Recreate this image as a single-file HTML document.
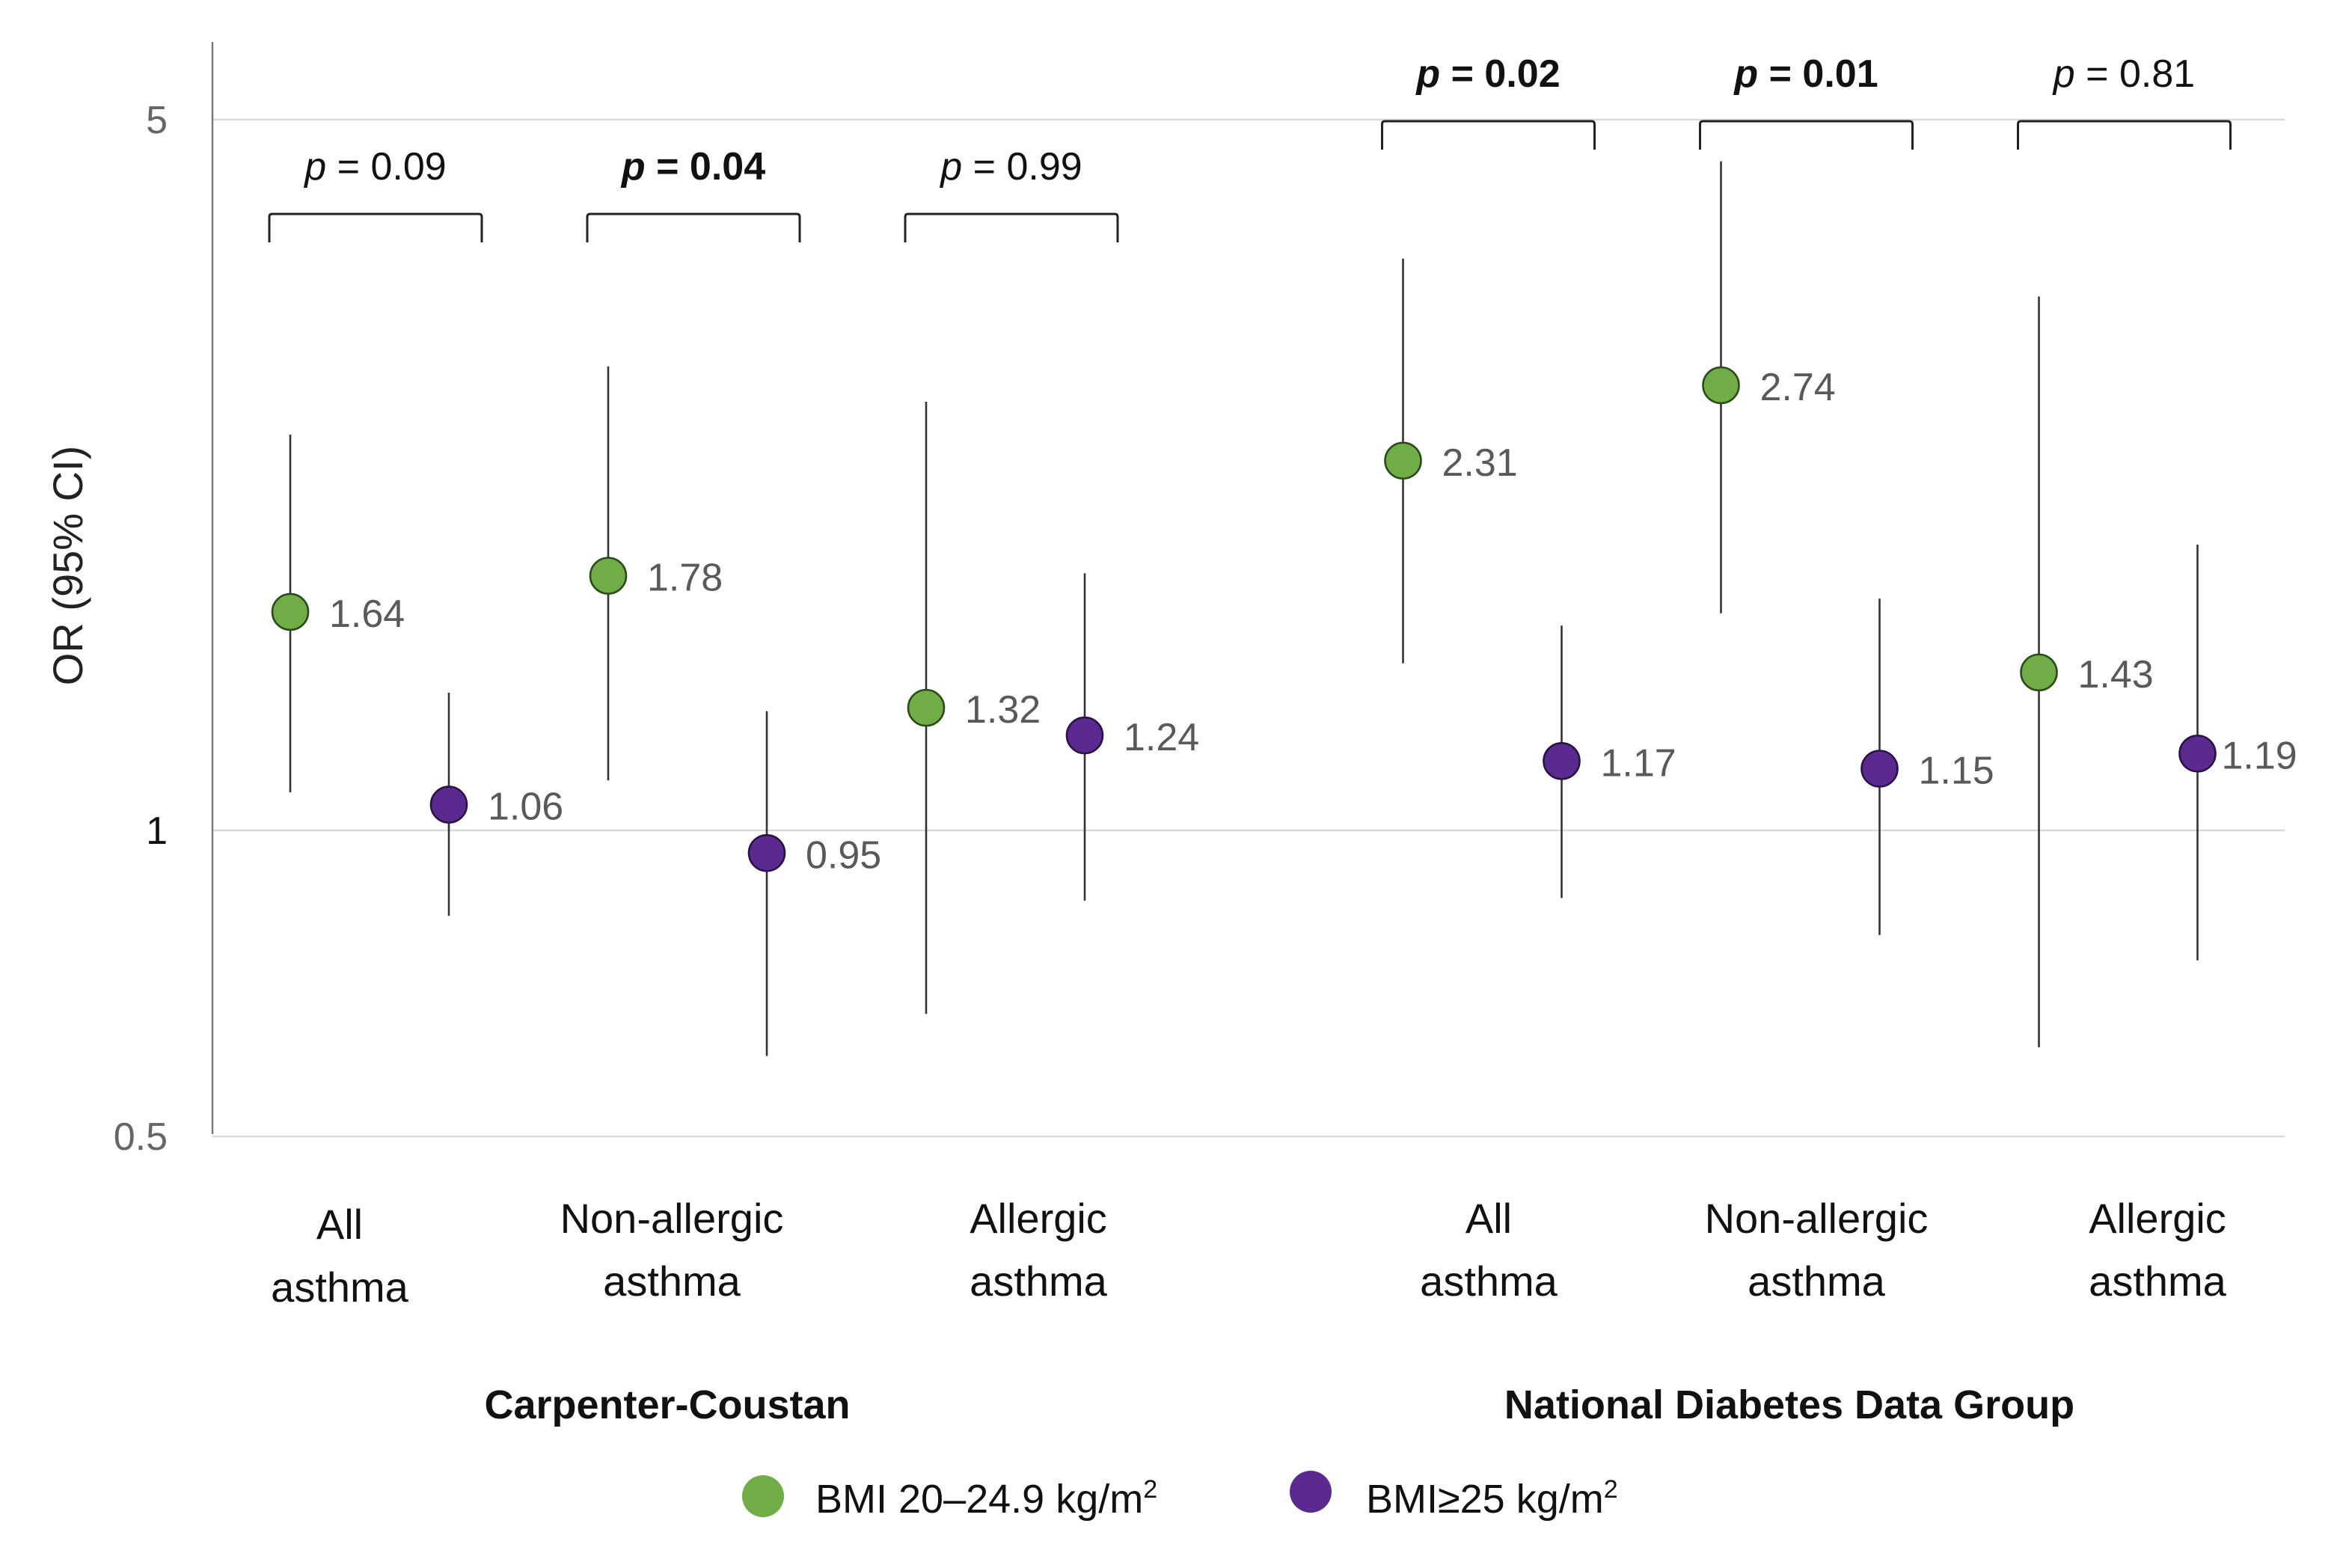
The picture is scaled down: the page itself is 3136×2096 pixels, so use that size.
<!DOCTYPE html>
<html><head><meta charset="utf-8"><style>
html,body{margin:0;padding:0;background:#fff;}
svg{display:block;}
text{font-family:"Liberation Sans",sans-serif;}
</style></head><body>
<svg id="chart" width="3136" height="2096" viewBox="0 0 1568 1048" xmlns="http://www.w3.org/2000/svg">
<g id="grid"></g>
<g id="axis"></g>
<g id="brackets"></g>
<g id="marks"></g>
<g id="labels"></g>
<text transform="translate(55,378) rotate(-90)" text-anchor="middle" font-size="28" fill="#222">OR (95% CI)</text>
<text x="446" y="948" text-anchor="middle" font-size="27" font-weight="bold" fill="#111">Carpenter-Coustan</text>
<text x="1196" y="948" text-anchor="middle" font-size="27" font-weight="bold" fill="#111">National Diabetes Data Group</text>
<g>
<circle cx="510" cy="1000" r="14" fill="#70ad47"/>
<text x="545" y="1011" font-size="27" fill="#111">BMI 20–24.9 kg/m<tspan font-size="17" dy="-10">2</tspan></text>
<circle cx="876" cy="997" r="14" fill="#5b2a91"/>
<text x="913" y="1011" font-size="27" fill="#111">BMI≥25 kg/m<tspan font-size="17" dy="-10">2</tspan></text>
</g>
</svg>
<script>
const categories = ["All asthma","Non-allergic asthma","Allergic asthma","All asthma","Non-allergic asthma","Allergic asthma"];
const slots = [0,1,2,3.5,4.5,5.5];
const greenOR = [1.64,1.78,1.32,2.31,2.74,1.43];
const greenLo = [1.09,1.12,0.66,1.46,1.635,0.612];
const greenHi = [2.45,2.86,2.64,3.65,4.55,3.35];
const purpleOR = [1.06,0.95,1.24,1.17,1.15,1.19];
const purpleLo = [0.824,0.60,0.853,0.858,0.789,0.745];
const purpleHi = [1.366,1.31,1.79,1.59,1.69,1.91];
const pValues = ["0.09","0.04","0.99","0.02","0.01","0.81"];
const pBold = [false,true,false,true,true,false];
const yTicks = [5,1,0.5];
const yTickLabels = ["5","1","0.5"];

const NS="http://www.w3.org/2000/svg";
const labelCenters=[227,449,694,995,1214,1442];
function yS(v){return 555-Math.log10(v)*679.6;}
function xS(s){return 194+212.5*s;}
function mk(tag,attrs,parent,txt){const e=document.createElementNS(NS,tag);for(const k in attrs)e.setAttribute(k,attrs[k]);if(txt!==undefined)e.textContent=txt;parent.appendChild(e);return e;}

const grid=document.getElementById('grid'),axis=document.getElementById('axis'),br=document.getElementById('brackets'),marks=document.getElementById('marks'),labs=document.getElementById('labels');
yTicks.forEach((t,i)=>{
  const y=yS(t);
  const g=mk('line',{x1:142,x2:1527,y1:y,y2:y,stroke:'#d9d9d9','stroke-width':1.2},grid);
  
  
  const tl=mk('text',{x:112,y:y+9,'text-anchor':'end','font-size':26,fill:t===1?'#111':'#666'},axis,yTickLabels[i]);
  
  
});
const al=mk('line',{x1:142,x2:142,y1:28,y2:758,stroke:'#777','stroke-width':1.2},axis);



categories.forEach((c,i)=>{
  const xg=xS(slots[i]), xp=xg+106;
  const by = i<3?143:81;
  const bx1=xg-14, bx2=xp+22;
  const b=mk('path',{d:`M${bx1},${by+19} L${bx1},${by+2} Q${bx1},${by} ${bx1+2},${by} L${bx2-2},${by} Q${bx2},${by} ${bx2},${by+2} L${bx2},${by+19}`,fill:'none',stroke:'#222','stroke-width':1.5},br);
  
  
  const pt=mk('text',{x:(bx1+bx2)/2,y:by-23,'text-anchor':'middle','font-size':26,fill:'#111','font-weight':pBold[i]?'bold':'normal'},br);
  
  
  mk('tspan',{'font-style':'italic'},pt,'p');
  mk('tspan',{},pt,' = '+pValues[i]);
  const gl=mk('line',{x1:xg,x2:xg,y1:yS(greenHi[i]),y2:yS(greenLo[i]),stroke:'#333','stroke-width':1.3},marks);
  
  
  const gc=mk('circle',{cx:xg,cy:yS(greenOR[i]),r:12,fill:'#70ad47',stroke:'#2b4a1a','stroke-width':1.3},marks);
  
  
  const gt=mk('text',{x:xg+26,y:yS(greenOR[i])+10,'font-size':26,fill:'#595959'},marks,greenOR[i].toFixed(2));
  
  
  const pl=mk('line',{x1:xp,x2:xp,y1:yS(purpleHi[i]),y2:yS(purpleLo[i]),stroke:'#333','stroke-width':1.3},marks);
  
  
  const pc=mk('circle',{cx:xp,cy:yS(purpleOR[i]),r:12,fill:'#5b2a91',stroke:'#2a1245','stroke-width':1.3},marks);
  
  
  const ptx=mk('text',{x:xp+(i===5?16:26),y:yS(purpleOR[i])+10,'font-size':26,fill:'#595959'},marks,purpleOR[i].toFixed(2));
  
  
  const words=c.split(' ');
  const l1=words.slice(0,-1).join(' '), l2=words[words.length-1];
  const cx=labelCenters[i];
  const ct=mk('text',{x:cx,y:i===0?828:824,'text-anchor':'middle','font-size':28,fill:'#111'},labs,l1);
  
  
  const ct2=mk('text',{x:cx,y:i===0?870:866,'text-anchor':'middle','font-size':28,fill:'#111'},labs,l2);
  
  
});
</script>
</body></html>
